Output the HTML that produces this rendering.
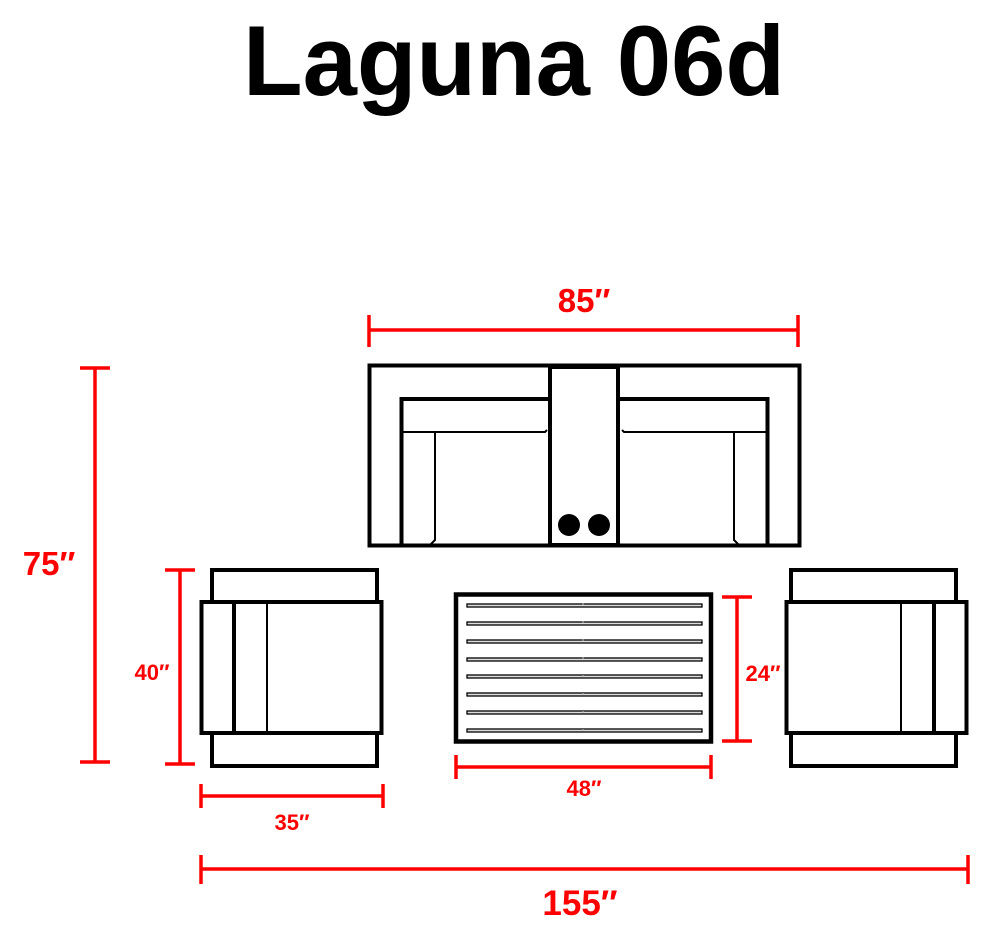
<!DOCTYPE html>
<html><head><meta charset="utf-8"><style>
html,body{margin:0;padding:0;background:#fff;width:990px;height:934px;overflow:hidden}
svg{display:block}
text{font-family:"Liberation Sans",sans-serif;font-weight:bold}
.r{fill:#ff0000}
</style></head><body>
<svg width="990" height="934" viewBox="0 0 990 934" xmlns="http://www.w3.org/2000/svg">
<text x="514" y="95" font-size="99" text-anchor="middle" textLength="542" lengthAdjust="spacingAndGlyphs">Laguna 06d</text>

<g stroke="#ff0000" stroke-width="3.5" fill="none">
<!-- 85 -->
<line x1="369" y1="330" x2="798" y2="330"/><line x1="369" y1="315" x2="369" y2="347"/><line x1="798" y1="315" x2="798" y2="347"/>
<!-- 75 -->
<line x1="95" y1="368" x2="95" y2="762"/><line x1="80" y1="368" x2="110" y2="368"/><line x1="80" y1="762" x2="110" y2="762"/>
<!-- 40 -->
<line x1="180" y1="570" x2="180" y2="764"/><line x1="165" y1="570" x2="195" y2="570"/><line x1="165" y1="764" x2="195" y2="764"/>
<!-- 24 -->
<line x1="737" y1="597" x2="737" y2="741"/><line x1="722" y1="597" x2="752" y2="597"/><line x1="722" y1="741" x2="752" y2="741"/>
<!-- 48 -->
<line x1="456" y1="767" x2="711" y2="767"/><line x1="456" y1="755" x2="456" y2="779"/><line x1="711" y1="755" x2="711" y2="779"/>
<!-- 35 -->
<line x1="201" y1="796" x2="383" y2="796"/><line x1="201" y1="784" x2="201" y2="808"/><line x1="383" y1="784" x2="383" y2="808"/>
<!-- 155 -->
<line x1="201" y1="869" x2="968" y2="869"/><line x1="201" y1="855" x2="201" y2="884"/><line x1="968" y1="855" x2="968" y2="884"/>
</g>
<text class="r" x="584" y="312" font-size="33" text-anchor="middle">85″</text>
<text class="r" x="49" y="575" font-size="33" text-anchor="middle">75″</text>
<text class="r" x="152" y="680" font-size="22" text-anchor="middle">40″</text>
<text class="r" x="763" y="681" font-size="22" text-anchor="middle">24″</text>
<text class="r" x="584" y="796" font-size="22" text-anchor="middle">48″</text>
<text class="r" x="292" y="830" font-size="22" text-anchor="middle">35″</text>
<text class="r" x="580" y="915" font-size="35" text-anchor="middle">155″</text>

<g stroke="#000" fill="none" stroke-linejoin="miter">
<!-- sofa -->
<rect x="369.5" y="365.5" width="430" height="180" stroke-width="4"/>
<rect x="550" y="367" width="68" height="178" stroke-width="4"/>
<polyline points="401.5,545 401.5,399 550,399" stroke-width="4"/>
<polyline points="767.5,545 767.5,399 618,399" stroke-width="4"/>
<polyline points="403,432 545,432 547,430" stroke-width="2"/>
<polyline points="766,432 624,432 622,430" stroke-width="2"/>
<polyline points="435,432 435,540 431,544" stroke-width="2"/>
<polyline points="734,432 734,540 738,544" stroke-width="2"/>
<!-- left chair -->
<rect x="212" y="570" width="165" height="32" stroke-width="4"/>
<rect x="212" y="733" width="165" height="33" stroke-width="4"/>
<rect x="201.5" y="602" width="180" height="131" fill="#fff" stroke-width="4"/>
<line x1="234" y1="602" x2="234" y2="733" stroke-width="4"/>
<line x1="267" y1="602" x2="267" y2="733" stroke-width="2"/>
<!-- right chair -->
<rect x="791" y="570" width="165" height="32" stroke-width="4"/>
<rect x="791" y="733" width="165" height="33" stroke-width="4"/>
<rect x="786.5" y="602" width="180" height="131" fill="#fff" stroke-width="4"/>
<line x1="934" y1="602" x2="934" y2="733" stroke-width="4"/>
<line x1="901" y1="602" x2="901" y2="733" stroke-width="2"/>
<!-- table -->
<rect x="456" y="594.5" width="255" height="147" stroke-width="4.5"/>
<g stroke-width="1.3" fill="#ddd">
<rect x="467" y="604" width="235" height="3"/>
<rect x="467" y="622" width="235" height="3"/>
<rect x="467" y="640" width="235" height="3"/>
<rect x="467" y="658" width="235" height="3"/>
<rect x="467" y="675" width="235" height="3"/>
<rect x="467" y="693" width="235" height="3"/>
<rect x="467" y="711" width="235" height="3"/>
<rect x="467" y="729" width="235" height="3"/>
</g>
</g>
<line x1="583" y1="603" x2="583" y2="733" stroke="#bbb" stroke-width="1" stroke-dasharray="2 16"/>
<circle cx="569" cy="525" r="11"/>
<circle cx="599" cy="525" r="11"/>
</svg>
</body></html>
